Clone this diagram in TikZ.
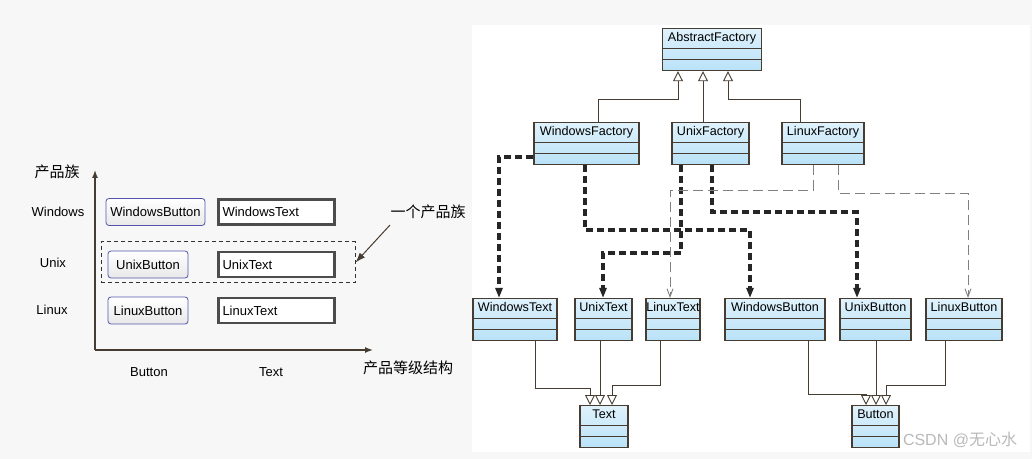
\documentclass[tikz,border=0pt]{standalone}
\usepackage{fontspec}
\setmainfont{Liberation Sans}
\newfontfamily\cjk{Noto Sans CJK SC}
\usetikzlibrary{arrows.meta}
\definecolor{ucol}{RGB}{185,226,248}
\definecolor{lcol}{RGB}{70,60,50}
\tikzset{umlbox/.style={draw=lcol,line width=.6pt,inner sep=0pt,minimum height=21pt,top color=white!55!ucol,bottom color=ucol,anchor=north}}
\tikzset{umltitle/.style={anchor=north,inner sep=1pt,yshift=-1pt,font=\fontsize{6.3}{7}\selectfont}}
\tikzset{gen/.style={draw=lcol,line width=.45pt,-{Triangle[open,length=5pt,width=5pt]}}}
\tikzset{dep/.style={draw=black!85,line width=1.6pt,dash pattern=on 3.5pt off 2pt,-{Triangle[length=5pt,width=3.5pt]}}}
\tikzset{ldep/.style={draw=gray,line width=.45pt,dash pattern=on 5pt off 2.5pt,-{Straight Barb[length=4pt,width=3pt]}}}
\tikzset{lbtn/.style={draw=blue!35!gray,rounded corners=1.5pt,top color=white,bottom color=gray!18,minimum height=13.5pt,inner sep=1pt,font=\fontsize{6.5}{7}\selectfont}}
\tikzset{ltxt/.style={draw=gray!60!black,line width=1.2pt,fill=white,minimum height=12.5pt,minimum width=58pt,inner sep=1.5pt,text width=54pt,font=\fontsize{6.5}{7}\selectfont}}
\tikzset{lab/.style={inner sep=0pt,font=\fontsize{6.5}{7}\selectfont}}
\tikzset{zh/.style={inner sep=0pt,font=\cjk\fontsize{7.5}{8}\selectfont}}
\newcommand{\umlcls}[5]{%
\node[umlbox,minimum width={#4*0.5pt}] (#1) at (#2,#3) {};
\node[umltitle] (#1t) at (#1.north) {#5};
\draw[lcol,line width=.4pt] ([yshift=-10pt]#1.north west) -- ([yshift=-10pt]#1.north east);
\draw[lcol,line width=.4pt] ([yshift=-15.5pt]#1.north west) -- ([yshift=-15.5pt]#1.north east);}

\begin{document}
\begin{tikzpicture}[x=0.5pt,y=-0.5pt]
\fill[gray!6] (0,0) rectangle (1032,459);
\fill[white] (472,25) rectangle (1030,452);

% left panel
\node[zh] (fam) at (57,172) {产品族};
\node[zh] (lvl) at (408,368) {产品等级结构};
\coordinate (o) at (95,350);
\coordinate (ytop) at (95,170);
\coordinate (xend) at (373,350);
\draw[lcol,line width=.7pt,-{Latex[length=4pt,width=3pt]}] (o) -- (ytop);
\draw[lcol,line width=.7pt,-{Latex[length=4pt,width=3pt]}] (o) -- (xend);
\node[lab] (rw) at (58,212) {Windows};
\node[lab] (ru) at (53,263) {Unix};
\node[lab] (rl) at (52,310) {Linux};
\node[lab] (cb) at (149,372) {Button};
\node[lab] (ct) at (271,372) {Text};
\node[lbtn,minimum width=49.5pt] (lwb) at (155.5,212) {WindowsButton};
\node[lbtn,minimum width=40pt] (lub) at (148,264.5) {UnixButton};
\node[lbtn,minimum width=40pt] (llb) at (148,310.5) {LinuxButton};
\node[ltxt] (lwt) at (276.5,212) {WindowsText};
\node[ltxt] (lut) at (276.5,264.5) {UnixText};
\node[ltxt] (llt) at (276.5,310.5) {LinuxText};
\node[draw=black!80,dash pattern=on 2pt off 1.5pt,line width=.5pt,minimum width=127pt,minimum height=20.5pt,inner sep=0pt] (grp) at (228,262.5) {};
\node[zh] (grpl) at (428,212) {一个产品族};
\draw[lcol,line width=.5pt,-{Latex[length=5pt,width=3.5pt]}] (390,225) -- (grp.east);

% right panel: classes
\umlcls{af}{712}{28}{99}{AbstractFactory}
\umlcls{wf}{586.5}{122}{105}{WindowsFactory}
\umlcls{uf}{710.5}{122}{77}{UnixFactory}
\umlcls{lf}{823}{122}{82}{LinuxFactory}
\umlcls{wt}{515}{298}{84}{WindowsText}
\umlcls{ut}{603.5}{298}{57}{UnixText}
\umlcls{lt}{673}{298}{54}{LinuxText}
\umlcls{wb}{775}{298}{100}{WindowsButton}
\umlcls{ub}{875.5}{298}{71}{UnixButton}
\umlcls{lb}{964}{298}{76}{LinuxButton}
\umlcls{txt}{604}{405}{48}{Text}
\umlcls{btn}{875.5}{405}{47}{Button}

% generalisation
\draw[gen] (598,0 |- wf.north) -- (598,99) -| (678,0 |- af.south);
\draw[gen] (703,0 |- uf.north) -- (703,0 |- af.south);
\draw[gen] (800,0 |- lf.north) -- (800,99) -| (728,0 |- af.south);
\draw[gen] (535,0 |- wt.south) -- (535,388) -| (590,0 |- txt.north);
\draw[gen] (600,0 |- ut.south) -- (600,0 |- txt.north);
\draw[gen] (660,0 |- lt.south) -- (660,385) -| (612,0 |- txt.north);
\draw[gen] (808,0 |- wb.south) -- (808,394) -| (866,0 |- btn.north);
\draw[gen] (876,0 |- ub.south) -- (876,0 |- btn.north);
\draw[gen] (945,0 |- lb.south) -- (945,385) -| (886,0 |- btn.north);

% dependencies
\draw[dep] (wf.west |- 0,157) -| (499,0 |- wt.north);
\draw[dep] (585,0 |- wf.south) |- (750,230) -- (750,0 |- wb.north);
\draw[dep] (681,0 |- uf.south) |- (603,253) -- (603,0 |- ut.north);
\draw[dep] (712,0 |- uf.south) |- (857,212) -- (857,0 |- ub.north);
\draw[ldep] (813,0 |- lf.south) |- (670,190) -- (670,0 |- lt.north);
\draw[ldep] (838,0 |- lf.south) |- (968,193) -- (968,0 |- lb.north);

\node[lab,text=gray!55,font=\fontsize{8}{9}\selectfont] (wm) at (960,440) {CSDN @{\cjk 无心水}};
\end{tikzpicture}
\end{document}
